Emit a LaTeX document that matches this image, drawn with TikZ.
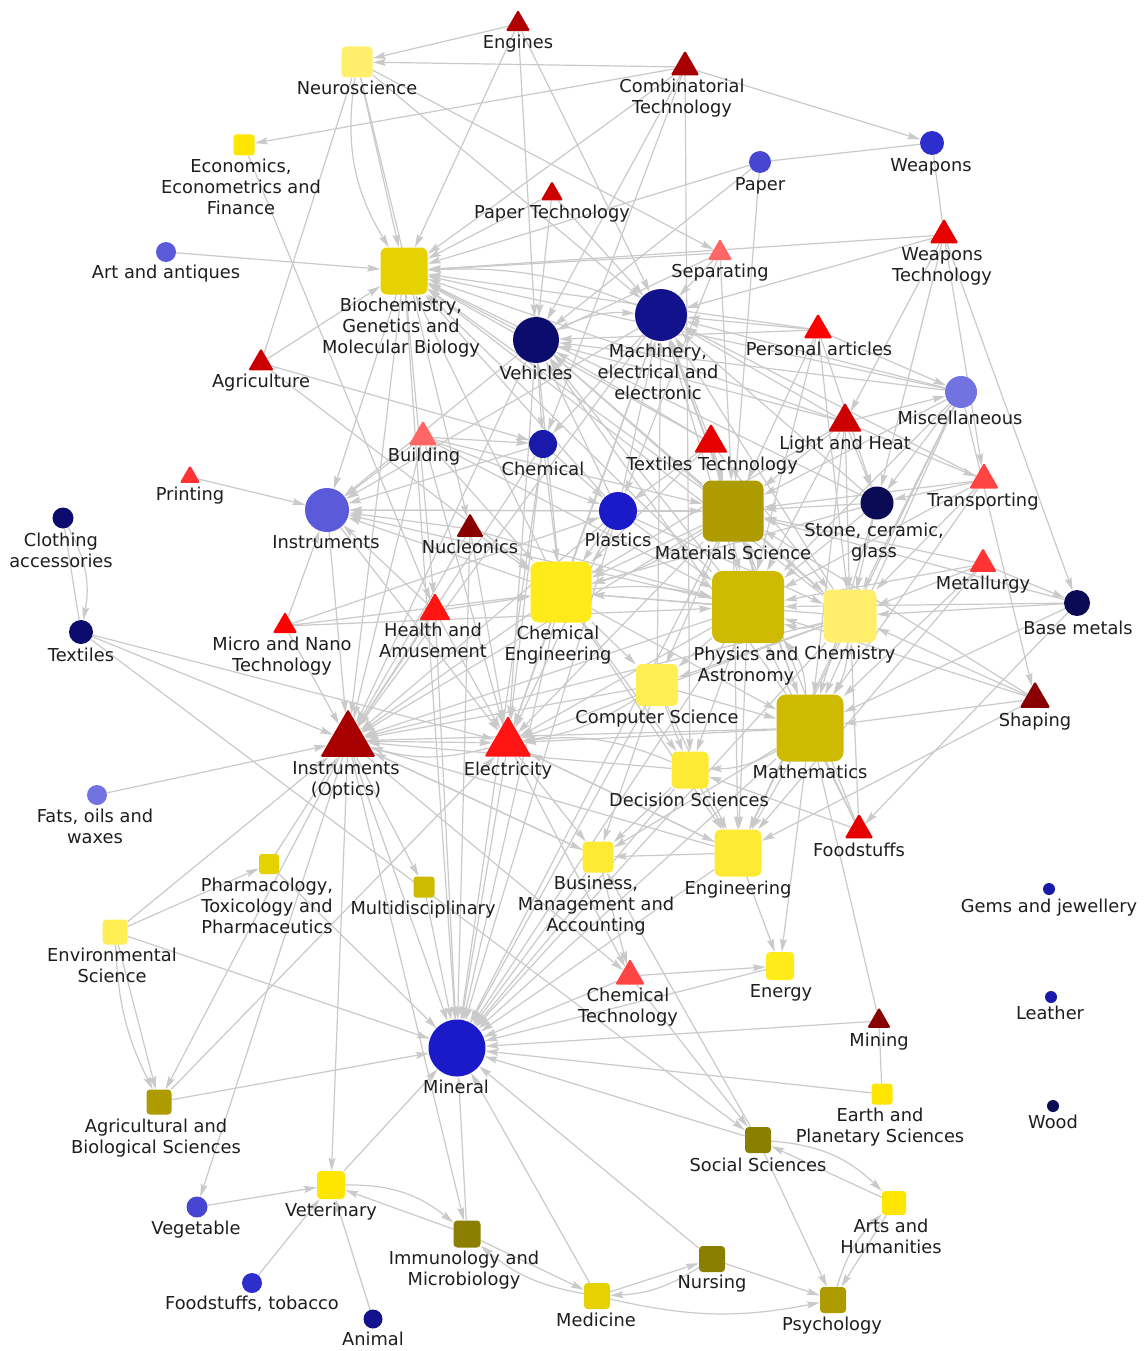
\documentclass[tikz,border=0pt]{standalone}
\usepackage{fontspec}
\setmainfont{DejaVu Sans}
\usetikzlibrary{shapes.geometric,arrows.meta}
\pgfdeclarelayer{bg}\pgfdeclarelayer{edges}
\pgfsetlayers{bg,edges,main}
\definecolor{yA}{HTML}{FFEF6B}\definecolor{yB}{HTML}{FFE600}\definecolor{yC}{HTML}{E6D200}
\definecolor{yD}{HTML}{AD9B00}\definecolor{yE}{HTML}{FFEB1A}\definecolor{yF}{HTML}{CEBA00}
\definecolor{yG}{HTML}{FFEA33}\definecolor{yH}{HTML}{8C7E00}\definecolor{yI}{HTML}{FFEF55}
\definecolor{bA}{HTML}{2E2ECC}\definecolor{bB}{HTML}{4646D2}\definecolor{bC}{HTML}{5A5ADA}
\definecolor{bD}{HTML}{12128C}\definecolor{bE}{HTML}{0C0C6E}\definecolor{bF}{HTML}{7272E0}
\definecolor{bG}{HTML}{1A1AAA}\definecolor{bH}{HTML}{0A0A55}\definecolor{bI}{HTML}{1A1AC8}
\definecolor{rA}{HTML}{B00000}\definecolor{rB}{HTML}{A80000}\definecolor{rC}{HTML}{CC0000}
\definecolor{rD}{HTML}{E60000}\definecolor{rE}{HTML}{FF6666}\definecolor{rF}{HTML}{FF0000}
\definecolor{rG}{HTML}{FF3333}\definecolor{rH}{HTML}{FF4444}\definecolor{rI}{HTML}{880000}
\definecolor{rJ}{HTML}{FF1414}
\definecolor{edgegray}{HTML}{CACACA}
\definecolor{labtext}{HTML}{1E1E1E}
\begin{document}
\begin{tikzpicture}[x=1pt,y=-1pt,
  sq/.style={rectangle,inner sep=0pt,minimum size=#1,rounded corners=0.14*#1},
  circ/.style={circle,inner sep=0pt,minimum size=2*#1},
  tri/.style={regular polygon,regular polygon sides=3,inner sep=0pt,minimum size=1.18*#1,rounded corners=1.5},
  lab/.style={font=\fontsize{17.8}{21}\selectfont,align=center,inner sep=0pt,anchor=north,text=labtext},
  lnk/.style={draw=edgegray,line width=1.2pt,-{Stealth[length=13pt,width=7pt,inset=2pt]}},
  lnkp/.style={draw=edgegray,line width=1.2pt}]
\begin{pgfonlayer}{bg}
\fill[white] (0,0) rectangle (1143,1351);
\end{pgfonlayer}
\useasboundingbox (0,0) rectangle (1143,1351);

% ---------- squares ----------
\node[sq=31,fill=yA] (neuro) at (357,62) {};
\node[sq=21,fill=yB] (econ) at (244,145) {};
\node[sq=47,fill=yC] (biochem) at (404,271) {};
\node[sq=61,fill=yD] (mats) at (733,511) {};
\node[sq=61,fill=yE] (chemeng) at (561,592) {};
\node[sq=72,fill=yF] (phys) at (748,607) {};
\node[sq=53,fill=yA] (chemy) at (850,616) {};
\node[sq=42,fill=yI] (compsci) at (657,685) {};
\node[sq=67,fill=yF] (math) at (810,728) {};
\node[sq=37,fill=yG] (decis) at (690,770) {};
\node[sq=47,fill=yG] (engg) at (738,853) {};
\node[sq=31,fill=yG] (bus) at (598,857) {};
\node[sq=20,fill=yC] (pharm) at (269,864) {};
\node[sq=21,fill=yF] (multi) at (424,887) {};
\node[sq=25,fill=yI] (env) at (115,932) {};
\node[sq=28,fill=yE] (energy) at (780,966) {};
\node[sq=21,fill=yB] (earth) at (882,1094) {};
\node[sq=25,fill=yD] (agbio) at (159,1102) {};
\node[sq=26,fill=yH] (social) at (758,1140) {};
\node[sq=28,fill=yB] (veter) at (331,1185) {};
\node[sq=24,fill=yB] (arts) at (894,1203) {};
\node[sq=27,fill=yH] (immuno) at (467,1234) {};
\node[sq=26,fill=yH] (nurs) at (712,1259) {};
\node[sq=26,fill=yC] (medic) at (597,1296) {};
\node[sq=26,fill=yD] (psych) at (833,1300) {};

% ---------- circles ----------
\node[circ=12,fill=bA] (weap) at (932,143) {};
\node[circ=11,fill=bB] (paper) at (760,162) {};
\node[circ=10,fill=bC] (art) at (166,252) {};
\node[circ=26,fill=bD] (mach) at (661,315) {};
\node[circ=23,fill=bE] (veh) at (536,340) {};
\node[circ=16,fill=bF] (misc) at (961,392) {};
\node[circ=14,fill=bG] (chem) at (543,444) {};
\node[circ=16.5,fill=bH] (stone) at (877,503) {};
\node[circ=19,fill=bI] (plast) at (618,511) {};
\node[circ=22,fill=bC] (inst) at (327,510) {};
\node[circ=10.5,fill=bE] (cloth) at (63,518) {};
\node[circ=13,fill=bH] (basem) at (1077,603) {};
\node[circ=12,fill=bE] (textiles) at (81,632) {};
\node[circ=10,fill=bF] (fats) at (97,795) {};
\node[circ=6,fill=bG] (gems) at (1049,889) {};
\node[circ=6,fill=bG] (leather) at (1051,997) {};
\node[circ=28.5,fill=bI] (mineral) at (457,1048) {};
\node[circ=6,fill=bH] (wood) at (1053,1106) {};
\node[circ=10.5,fill=bB] (veg) at (197,1207) {};
\node[circ=10,fill=bA] (foodtob) at (252,1283) {};
\node[circ=9.5,fill=bD] (animal) at (373,1319) {};

% ---------- triangles ----------
\node[tri=24,fill=rA] (eng) at (518,24) {};
\node[tri=28,fill=rB] (comb) at (685,67) {};
\node[tri=22,fill=rC] (papt) at (552,194) {};
\node[tri=28,fill=rD] (weapt) at (944,235) {};
\node[tri=24,fill=rE] (sep) at (720,253) {};
\node[tri=25,fill=rC] (agri) at (261,363) {};
\node[tri=28,fill=rF] (pers) at (818,330) {};
\node[tri=33,fill=rC] (light) at (845,422) {};
\node[tri=28,fill=rE] (build) at (423,437) {};
\node[tri=33,fill=rD] (textt) at (711,443) {};
\node[tri=20,fill=rG] (print) at (190,477) {};
\node[tri=29,fill=rH] (transp) at (984,480) {};
\node[tri=27,fill=rI] (nucl) at (470,529) {};
\node[tri=27,fill=rG] (metal) at (983,564) {};
\node[tri=24,fill=rF] (micro) at (285,626) {};
\node[tri=31,fill=rJ] (health) at (435,611) {};
\node[tri=30,fill=rI] (shaping) at (1035,699) {};
\node[tri=54,fill=rB] (optics) at (348,741) {};
\node[tri=46,fill=rJ] (elec) at (508,743) {};
\node[tri=28,fill=rD] (food) at (859,830) {};
\node[tri=29,fill=rH] (chemtech) at (630,976) {};
\node[tri=23,fill=rI] (mining) at (879,1021) {};

% ---------- connectors ----------
\begin{pgfonlayer}{edges}
\foreach \a/\b in {eng/neuro,comb/neuro,comb/econ,comb/weap,eng/biochem,eng/veh,eng/mach,
  neuro/biochem,neuro/mach,neuro/sep,neuro/nucl,econ/health,art/biochem,agri/biochem,agri/chemeng,agri/chem,
  comb/biochem,comb/veh,comb/chem,comb/decis,paper/biochem,paper/veh,paper/mats,
  weapt/biochem,weapt/mach,weapt/light,weapt/stone,weapt/transp,weapt/basem,
  papt/biochem,papt/mach,papt/veh,sep/biochem,sep/veh,sep/mach,sep/mats,sep/plast,
  pers/biochem,pers/misc,pers/stone,pers/veh,pers/mats,pers/phys,pers/chemy,pers/mach,
  mach/chem,mach/inst,mach/optics,mach/elec,light/mach,textt/mach,misc/mach,stone/mach,plast/mach,
  mats/mach,phys/mach,chemy/mach,math/mach,chemeng/mach,compsci/mach,transp/mach,
  veh/biochem,veh/chem,veh/inst,veh/optics,veh/elec,light/veh,textt/veh,mats/veh,phys/veh,chemy/veh,
  plast/veh,chemeng/veh,math/veh,misc/veh,
  biochem/inst,biochem/health,biochem/optics,biochem/mineral,light/biochem,textt/biochem,misc/biochem,
  mats/biochem,phys/biochem,chemy/biochem,stone/biochem,chemeng/biochem,plast/biochem,
  print/inst,build/inst,chem/inst,nucl/inst,plast/inst,chemeng/inst,mats/inst,phys/inst,health/inst,
  micro/inst,inst/optics,inst/elec,
  build/chem,build/plast,build/chemeng,build/mats,build/phys,build/optics,build/elec,
  chem/plast,chem/chemeng,chem/optics,chem/elec,chem/mineral,
  textt/plast,textt/mats,textt/phys,textt/chemy,textt/chemeng,
  light/stone,light/mats,light/phys,light/chemy,light/misc,light/transp,light/chemeng,light/math,
  misc/stone,misc/chemy,misc/phys,misc/mats,misc/shaping,misc/math,misc/engg,
  stone/mats,stone/chemy,stone/phys,stone/math,stone/chemeng,
  transp/stone,transp/mats,transp/chemy,transp/phys,transp/math,
  metal/basem,metal/chemy,metal/phys,metal/mats,metal/math,metal/engg,
  basem/chemy,basem/phys,basem/mats,basem/math,basem/food,
  shaping/math,shaping/chemy,shaping/phys,shaping/mats,shaping/engg,
  nucl/optics,nucl/chemeng,nucl/phys,nucl/elec,nucl/mineral,
  health/optics,health/chemeng,health/elec,health/mineral,
  micro/chemeng,micro/phys,micro/plast,micro/optics,
  plast/chemeng,plast/mats,plast/phys,plast/chemy,plast/elec,plast/optics,plast/mineral,
  textiles/optics,textiles/elec,textiles/social,fats/optics,
  mats/chemy,mats/chemeng,mats/math,mats/compsci,mats/engg,
  phys/chemeng,phys/compsci,phys/engg,phys/decis,
  chemy/chemeng,chemy/engg,chemy/compsci,chemeng/compsci,chemeng/math,chemeng/engg,chemeng/decis,
  compsci/math,compsci/decis,compsci/engg,compsci/bus,math/engg,math/bus,math/energy,
  decis/engg,decis/bus,engg/bus,engg/energy,chemtech/energy,bus/chemtech,
  chemeng/optics,phys/optics,mats/optics,chemy/optics,math/optics,compsci/optics,decis/optics,
  engg/optics,bus/optics,
  chemeng/elec,phys/elec,math/elec,mats/elec,engg/elec,chemy/elec,optics/elec,
  optics/mineral,elec/mineral,pharm/mineral,multi/mineral,env/mineral,agbio/mineral,veter/mineral,
  immuno/mineral,medic/mineral,nurs/mineral,social/mineral,earth/mineral,mining/mineral,
  chemtech/mineral,energy/mineral,bus/mineral,engg/mineral,decis/mineral,compsci/mineral,
  math/mineral,phys/mineral,chemy/mineral,mats/mineral,chemeng/mineral,
  env/pharm,env/optics,pharm/optics,optics/agbio,optics/veg,optics/veter,optics/multi,optics/immuno,
  agbio/elec,veg/veter,foodtob/veter,animal/veter,immuno/medic,medic/nurs,nurs/psych,
  social/psych,arts/psych,food/chemy,food/decis,food/phys,food/mats,social/bus,chemtech/social,
  elec/engg,elec/bus,elec/chemtech,optics/chemtech,optics/bus,immuno/veter,env/agbio}
  \draw[lnk] (\a) -- (\b);
\foreach \a/\b in {agri/neuro,weap/weapt,paper/weap,math/mining,earth/mining,math/food,cloth/textiles}
  \draw[lnkp] (\a) -- (\b);
\draw[lnk] (neuro) to[bend right=20] (biochem);
\draw[lnk] (mach) to[bend right=12] (biochem);
\draw[lnk] (veh) to[bend left=15] (mach);
\draw[lnk] (cloth) to[bend left=20] (textiles);
\draw[lnk] (env) to[bend right=12] (agbio);
\draw[lnk] (veter) to[bend left=20] (immuno);
\draw[lnk] (medic) to[bend left=15] (immuno);
\draw[lnk] (nurs) to[bend left=15] (medic);
\draw[lnk] (medic) to[bend right=12] (psych);
\draw[lnk] (social) to[bend left=20] (arts);
\draw[lnk] (arts) to[bend left=0] (social);
\draw[lnk] (psych) to[bend left=15] (arts);
\draw[lnk] (decis) to[bend right=15] (elec);
\draw[lnk] (compsci) to[bend left=12] (elec);
\draw[lnk] (math) to[bend left=15] (decis);
\draw[lnk] (chemy) to[bend left=20] (phys);
\draw[lnk] (phys) to[bend right=15] (mats);
\draw[lnk] (math) to[bend right=20] (phys);
\draw[lnk] (chemy) to[bend left=15] (math);
\draw[lnk] (elec) to[bend left=15] (optics);
\draw[lnk] (chemeng) to[bend left=10] (phys);
\draw[lnk] (mats) to[bend left=10] (chemeng);
\end{pgfonlayer}

% ---------- labels ----------
\node[lab] (l-eng) at (518,35) {Engines};
\node[lab] (l-neuro) at (357,81) {Neuroscience};
\node[lab] (l-comb) at (682,79) {Combinatorial\\Technology};
\node[lab] (l-econ) at (241,159) {Economics,\\Econometrics and\\Finance};
\node[lab] (l-weap) at (931,158) {Weapons};
\node[lab] (l-paper) at (760,177) {Paper};
\node[lab] (l-papt) at (552,205) {Paper Technology};
\node[lab] (l-weapt) at (942,247) {Weapons\\Technology};
\node[lab] (l-art) at (166,265) {Art and antiques};
\node[lab] (l-sep) at (720,264) {Separating};
\node[lab] (l-biochem) at (401,298) {Biochemistry,\\Genetics and\\Molecular Biology};
\node[lab] (l-pers) at (819,342) {Personal articles};
\node[lab] (l-mach) at (658,344) {Machinery,\\electrical and\\electronic};
\node[lab] (l-veh) at (536,366) {Vehicles};
\node[lab] (l-agri) at (261,374) {Agriculture};
\node[lab] (l-misc) at (960,411) {Miscellaneous};
\node[lab] (l-light) at (845,436) {Light and Heat};
\node[lab] (l-build) at (424,448) {Building};
\node[lab] (l-chem) at (543,462) {Chemical};
\node[lab] (l-textt) at (712,457) {Textiles Technology};
\node[lab] (l-print) at (190,487) {Printing};
\node[lab] (l-transp) at (983,493) {Transporting};
\node[lab] (l-stone) at (874,523) {Stone, ceramic,\\glass};
\node[lab] (l-inst) at (326,535) {Instruments};
\node[lab] (l-cloth) at (61,533) {Clothing\\accessories};
\node[lab] (l-nucl) at (470,540) {Nucleonics};
\node[lab] (l-plast) at (618,533) {Plastics};
\node[lab] (l-mats) at (733,546) {Materials Science};
\node[lab] (l-metal) at (983,576) {Metallurgy};
\node[lab] (l-basem) at (1078,621) {Base metals};
\node[lab] (l-micro) at (282,637) {Micro and Nano\\Technology};
\node[lab] (l-health) at (433,623) {Health and\\Amusement};
\node[lab] (l-chemeng) at (558,626) {Chemical\\Engineering};
\node[lab] (l-phys) at (746,647) {Physics and\\Astronomy};
\node[lab] (l-chemy) at (850,646) {Chemistry};
\node[lab] (l-textiles) at (81,648) {Textiles};
\node[lab] (l-compsci) at (657,710) {Computer Science};
\node[lab] (l-shaping) at (1035,713) {Shaping};
\node[lab] (l-optics) at (346,761) {Instruments\\(Optics)};
\node[lab] (l-elec) at (508,762) {Electricity};
\node[lab] (l-math) at (810,765) {Mathematics};
\node[lab] (l-decis) at (689,793) {Decision Sciences};
\node[lab] (l-fats) at (95,809) {Fats, oils and\\waxes};
\node[lab] (l-food) at (859,843) {Foodstuffs};
\node[lab] (l-pharm) at (267,878) {Pharmacology,\\Toxicology and\\Pharmaceutics};
\node[lab] (l-bus) at (596,876) {Business,\\Management and\\Accounting};
\node[lab] (l-engg) at (738,881) {Engineering};
\node[lab] (l-multi) at (423,901) {Multidisciplinary};
\node[lab] (l-gems) at (1049,899) {Gems and jewellery};
\node[lab] (l-env) at (112,948) {Environmental\\Science};
\node[lab] (l-chemtech) at (628,988) {Chemical\\Technology};
\node[lab] (l-energy) at (781,984) {Energy};
\node[lab] (l-leather) at (1050,1006) {Leather};
\node[lab] (l-mining) at (879,1033) {Mining};
\node[lab] (l-mineral) at (456,1080) {Mineral};
\node[lab] (l-earth) at (880,1108) {Earth and\\Planetary Sciences};
\node[lab] (l-agbio) at (156,1119) {Agricultural and\\Biological Sciences};
\node[lab] (l-wood) at (1053,1115) {Wood};
\node[lab] (l-social) at (758,1158) {Social Sciences};
\node[lab] (l-veter) at (331,1203) {Veterinary};
\node[lab] (l-arts) at (891,1219) {Arts and\\Humanities};
\node[lab] (l-veg) at (196,1221) {Vegetable};
\node[lab] (l-immuno) at (464,1251) {Immunology and\\Microbiology};
\node[lab] (l-nurs) at (712,1275) {Nursing};
\node[lab] (l-foodtob) at (252,1296) {Foodstuffs, tobacco};
\node[lab] (l-medic) at (596,1313) {Medicine};
\node[lab] (l-psych) at (832,1317) {Psychology};
\node[lab] (l-animal) at (373,1332) {Animal};
\end{tikzpicture}
\end{document}
